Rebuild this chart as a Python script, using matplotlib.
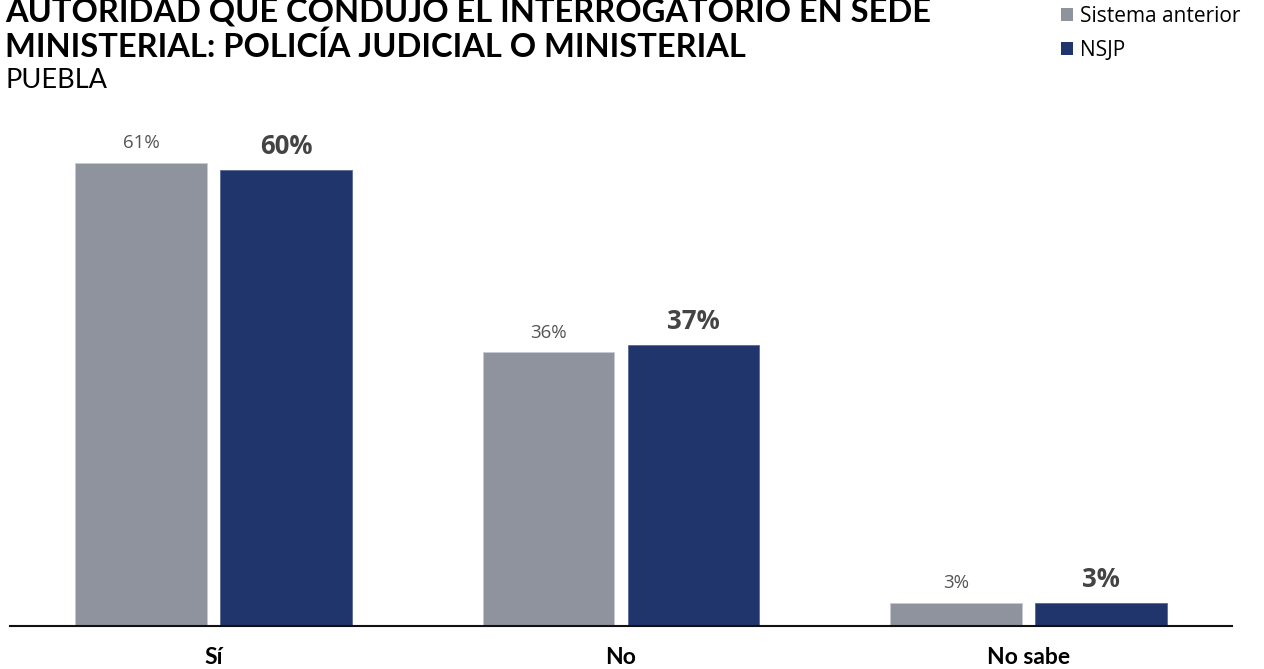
import numpy as np
import matplotlib
matplotlib.use("Agg")
import matplotlib.pyplot as plt
from matplotlib.patches import Patch

# data
categories = ["Sí", "No", "No sabe"]
sistema_anterior = [61, 36, 3]
nsjp = [60, 37, 3]
series_names = ["Sistema anterior", "NSJP"]

gray = "#8f939e"
navy = "#20356b"

plt.rcParams['font.family'] = ['Lato', 'DejaVu Sans']

fig = plt.figure(figsize=(12.64, 6.69), dpi=100)
ax = fig.add_axes([0.0079, 0.0643, 0.9668, 0.795])

x = np.arange(len(categories))
w = 0.3235
off = 0.178
ax.bar(x - off, sistema_anterior, w, color=gray, edgecolor="#c7cad2", linewidth=0.6)
ax.bar(x + off, nsjp, w, color=navy, edgecolor="#5a6a95", linewidth=0.6)

for xi, v in zip(x - off, sistema_anterior):
    ax.text(xi, v + 2.6, f"{v}%", ha="center", va="center", fontsize=13.5,
            color="#555555", family=["Open Sans", "DejaVu Sans"])
for xi, v in zip(x + off, nsjp):
    ax.text(xi, v + 3.1, f"{v}%", ha="center", va="center", fontsize=18.5,
            fontweight="bold", color="#444444", family=["Open Sans", "DejaVu Sans"])

ax.set_xlim(-0.5, 2.5)
ax.set_ylim(0, 70)
for s in ["top", "right", "left"]:
    ax.spines[s].set_visible(False)
ax.spines["bottom"].set_linewidth(1.5)
ax.spines["bottom"].set_color("#111111")
ax.set_yticks([])
ax.set_xticks(x)
ax.set_xticklabels(categories, fontsize=16.5, fontweight="bold")
ax.tick_params(axis="x", length=0, pad=15)

# title, first line partly above the top edge as in the reference
fig.text(0.004, 1 - 22 / 669, "AUTORIDAD QUE CONDUJO EL INTERROGATORIO EN SEDE",
         fontsize=23.5, fontweight="bold", color="black", va="baseline", ha="left")
fig.text(0.004, 1 - 57 / 669, "MINISTERIAL: POLICÍA JUDICIAL O MINISTERIAL",
         fontsize=23.5, fontweight="bold", color="black", va="baseline", ha="left")
fig.text(0.004, 1 - 88 / 669, "PUEBLA", fontsize=19.5, color="black",
         va="baseline", ha="left")

handles = [Patch(facecolor=gray, label=series_names[0]),
           Patch(facecolor=navy, label=series_names[1])]
fig.legend(handles=handles, loc="upper left", bbox_to_anchor=(1061 / 1264, 1 - 6 / 669),
           frameon=False, handlelength=0.58, handleheight=0.58,
           handletextpad=0.35, labelspacing=0.6, borderpad=0, borderaxespad=0,
           prop={"family": ["Open Sans", "DejaVu Sans"], "size": 15})

fig.savefig("out.png", dpi=100)
